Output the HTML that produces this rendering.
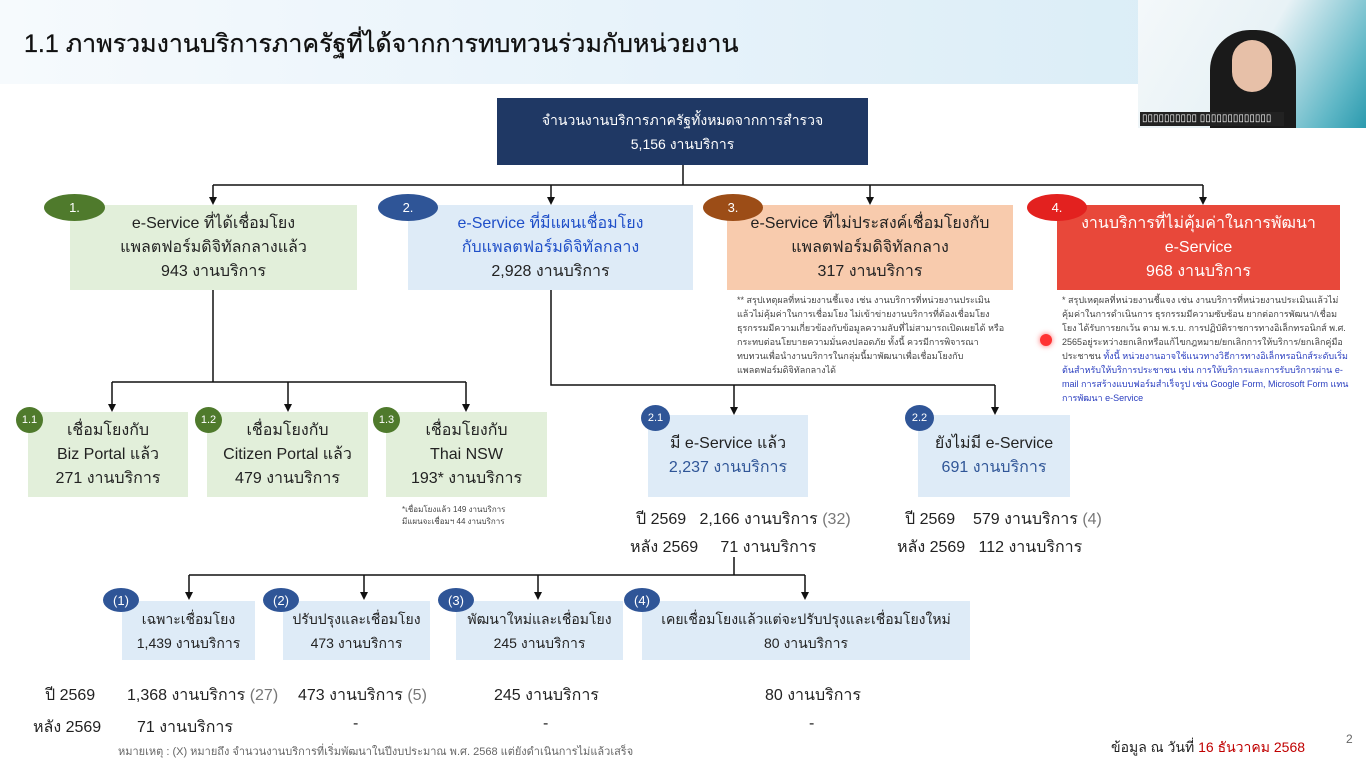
<!DOCTYPE html>
<html><head><meta charset="utf-8">
<style>
*{margin:0;padding:0;box-sizing:border-box}
body{width:1366px;height:768px;position:relative;overflow:hidden;background:#fff;font-family:"Liberation Sans","DejaVu Sans",sans-serif;color:#222}
.a{position:absolute}
.box{position:absolute;display:flex;flex-direction:column;justify-content:center;align-items:center;text-align:center;line-height:24px;font-size:16px}
.g{background:#e2efda}.b{background:#deebf7}.p{background:#f8cbad}.r{background:#e8483a;color:#fff}
.badge{position:absolute;border-radius:50%;color:#fff;font-size:13px;display:flex;align-items:center;justify-content:center}
.t{position:absolute;font-size:16px;white-space:nowrap}
.note{position:absolute;font-size:9px;line-height:14px;color:#444}
</style></head><body>
<div class="a" style="left:0;top:0;width:1366px;height:84px;background:linear-gradient(90deg,#f6fafd 0%,#e6f2fa 50%,#d6ebf5 100%)"></div>
<div class="a" style="left:24px;top:24px;font-size:25px;color:#111;-webkit-text-stroke:0.3px #111">1.1 ภาพรวมงานบริการภาครัฐที่ได้จากการทบทวนร่วมกับหน่วยงาน</div>
<div class="a" style="left:1138px;top:0;width:228px;height:128px;background:linear-gradient(120deg,#f4f8fa 0%,#e8f2f6 50%,#5fb7c6 85%,#2b9aae 100%)"></div>
<div class="a" style="left:1210px;top:30px;width:86px;height:98px;background:#1a1a1a;border-radius:40px 40px 0 0"></div>
<div class="a" style="left:1232px;top:40px;width:40px;height:52px;background:#e7c0a8;border-radius:20px"></div>
<div class="a" style="left:1140px;top:112px;width:144px;height:14px;background:#222;color:#fff;font-size:10px;line-height:14px;padding-left:2px">▯▯▯▯▯▯▯▯▯▯ ▯▯▯▯▯▯▯▯▯▯▯▯▯</div>

<svg class="a" style="left:0;top:0" width="1366" height="768">
<g stroke="#111" stroke-width="1.5" fill="none">
<path d="M683 165 V185 M213 185 H1203 M213 185 V198 M551 185 V198 M870 185 V198 M1203 185 V198"/>
<path d="M213 290 V382 M112 382 H466 M112 382 V405 M288 382 V405 M466 382 V405"/>
<path d="M551 290 V385 H995 M734 385 V408 M995 385 V408"/>
<path d="M734 557 V575 M189 575 H805 M189 575 V593 M364 575 V593 M538 575 V593 M805 575 V593"/>
</g>
<g fill="#111">
<path d="M209 197 H217 L213 205 Z"/><path d="M547 197 H555 L551 205 Z"/><path d="M866 197 H874 L870 205 Z"/><path d="M1199 197 H1207 L1203 205 Z"/>
<path d="M108 404 H116 L112 412 Z"/><path d="M284 404 H292 L288 412 Z"/><path d="M462 404 H470 L466 412 Z"/>
<path d="M730 407 H738 L734 415 Z"/><path d="M991 407 H999 L995 415 Z"/>
<path d="M185 592 H193 L189 600 Z"/><path d="M360 592 H368 L364 600 Z"/><path d="M534 592 H542 L538 600 Z"/><path d="M801 592 H809 L805 600 Z"/>
</g></svg>

<div class="box" style="left:497px;top:98px;width:371px;height:67px;background:#1f3864;color:#fff;font-size:14px">จำนวนงานบริการภาครัฐทั้งหมดจากการสำรวจ<br>5,156 งานบริการ</div>

<div class="box g" style="left:70px;top:205px;width:287px;height:85px">e-Service ที่ได้เชื่อมโยง<br>แพลตฟอร์มดิจิทัลกลางแล้ว<br>943 งานบริการ</div>
<div class="box b" style="left:408px;top:205px;width:285px;height:85px;color:#1f4fc8">e-Service ที่มีแผนเชื่อมโยง<br>กับแพลตฟอร์มดิจิทัลกลาง<br><span style="color:#222">2,928 งานบริการ</span></div>
<div class="box p" style="left:727px;top:205px;width:286px;height:85px">e-Service ที่ไม่ประสงค์เชื่อมโยงกับ<br>แพลตฟอร์มดิจิทัลกลาง<br>317 งานบริการ</div>
<div class="box r" style="left:1057px;top:205px;width:283px;height:85px">งานบริการที่ไม่คุ้มค่าในการพัฒนา<br>e-Service<br>968 งานบริการ</div>
<div class="badge" style="left:44px;top:194px;width:61px;height:27px;background:#4f7a2c">1.</div>
<div class="badge" style="left:378px;top:194px;width:60px;height:27px;background:#2f5597">2.</div>
<div class="badge" style="left:703px;top:194px;width:60px;height:27px;background:#9c4d17">3.</div>
<div class="badge" style="left:1027px;top:194px;width:60px;height:27px;background:#e3211f">4.</div>

<div class="note" style="left:737px;top:293px;width:268px">** สรุปเหตุผลที่หน่วยงานชี้แจง เช่น งานบริการที่หน่วยงานประเมินแล้วไม่คุ้มค่าในการเชื่อมโยง ไม่เข้าข่ายงานบริการที่ต้องเชื่อมโยง ธุรกรรมมีความเกี่ยวข้องกับข้อมูลความลับที่ไม่สามารถเปิดเผยได้ หรือกระทบต่อนโยบายความมั่นคงปลอดภัย ทั้งนี้ ควรมีการพิจารณาทบทวนเพื่อนำงานบริการในกลุ่มนี้มาพัฒนาเพื่อเชื่อมโยงกับแพลตฟอร์มดิจิทัลกลางได้</div>
<div class="note" style="left:1062px;top:293px;width:288px">* สรุปเหตุผลที่หน่วยงานชี้แจง เช่น งานบริการที่หน่วยงานประเมินแล้วไม่คุ้มค่าในการดำเนินการ ธุรกรรมมีความซับซ้อน ยากต่อการพัฒนา/เชื่อมโยง ได้รับการยกเว้น ตาม พ.ร.บ. การปฏิบัติราชการทางอิเล็กทรอนิกส์ พ.ศ. 2565อยู่ระหว่างยกเลิกหรือแก้ไขกฎหมาย/ยกเลิกการให้บริการ/ยกเลิกคู่มือประชาชน <span style="color:#2b3fc0">ทั้งนี้ หน่วยงานอาจใช้แนวทางวิธีการทางอิเล็กทรอนิกส์ระดับเริ่มต้นสำหรับให้บริการประชาชน เช่น การให้บริการและการรับบริการผ่าน e-mail การสร้างแบบฟอร์มสำเร็จรูป เช่น Google Form, Microsoft Form แทนการพัฒนา e-Service</span></div>
<div class="a" style="left:1040px;top:334px;width:12px;height:12px;border-radius:50%;background:#f33;box-shadow:0 0 6px #f66"></div>

<div class="box g" style="left:28px;top:412px;width:160px;height:85px">เชื่อมโยงกับ<br>Biz Portal แล้ว<br>271 งานบริการ</div>
<div class="box g" style="left:207px;top:412px;width:161px;height:85px">เชื่อมโยงกับ<br>Citizen Portal แล้ว<br>479 งานบริการ</div>
<div class="box g" style="left:386px;top:412px;width:161px;height:85px">เชื่อมโยงกับ<br>Thai NSW<br>193* งานบริการ</div>
<div class="badge" style="left:16px;top:407px;width:27px;height:26px;background:#4f7a2c;font-size:11px">1.1</div>
<div class="badge" style="left:195px;top:407px;width:27px;height:26px;background:#4f7a2c;font-size:11px">1.2</div>
<div class="badge" style="left:373px;top:407px;width:27px;height:26px;background:#4f7a2c;font-size:11px">1.3</div>
<div class="note" style="left:402px;top:504px;width:140px;font-size:8px;line-height:12px">*เชื่อมโยงแล้ว 149 งานบริการ<br>มีแผนจะเชื่อมฯ 44 งานบริการ</div>

<div class="box b" style="left:648px;top:415px;width:160px;height:82px">มี e-Service แล้ว<br><span style="color:#2f5597">2,237 งานบริการ</span></div>
<div class="box b" style="left:918px;top:415px;width:152px;height:82px">ยังไม่มี e-Service<br><span style="color:#2f5597">691 งานบริการ</span></div>
<div class="badge" style="left:641px;top:405px;width:29px;height:26px;background:#2f5597;font-size:11px">2.1</div>
<div class="badge" style="left:905px;top:405px;width:29px;height:26px;background:#2f5597;font-size:11px">2.2</div>

<div class="t" style="left:636px;top:507px">ปี 2569 &nbsp;&nbsp;2,166 งานบริการ <span style="color:#777">(32)</span></div>
<div class="t" style="left:630px;top:535px">หลัง 2569 &nbsp;&nbsp;&nbsp;&nbsp;71 งานบริการ</div>
<div class="t" style="left:905px;top:507px">ปี 2569 &nbsp;&nbsp;&nbsp;579 งานบริการ <span style="color:#777">(4)</span></div>
<div class="t" style="left:897px;top:535px">หลัง 2569 &nbsp;&nbsp;112 งานบริการ</div>

<div class="box b" style="left:122px;top:601px;width:133px;height:59px;font-size:14px">เฉพาะเชื่อมโยง<br>1,439 งานบริการ</div>
<div class="box b" style="left:283px;top:601px;width:147px;height:59px;font-size:14px">ปรับปรุงและเชื่อมโยง<br>473 งานบริการ</div>
<div class="box b" style="left:456px;top:601px;width:167px;height:59px;font-size:14px">พัฒนาใหม่และเชื่อมโยง<br>245 งานบริการ</div>
<div class="box b" style="left:642px;top:601px;width:328px;height:59px;font-size:14px">เคยเชื่อมโยงแล้วแต่จะปรับปรุงและเชื่อมโยงใหม่<br>80 งานบริการ</div>
<div class="badge" style="left:103px;top:588px;width:36px;height:24px;background:#2f5597">(1)</div>
<div class="badge" style="left:263px;top:588px;width:36px;height:24px;background:#2f5597">(2)</div>
<div class="badge" style="left:438px;top:588px;width:36px;height:24px;background:#2f5597">(3)</div>
<div class="badge" style="left:624px;top:588px;width:36px;height:24px;background:#2f5597">(4)</div>

<div class="t" style="left:45px;top:683px">ปี 2569</div>
<div class="t" style="left:127px;top:683px">1,368 งานบริการ <span style="color:#777">(27)</span></div>
<div class="t" style="left:298px;top:683px">473 งานบริการ <span style="color:#777">(5)</span></div>
<div class="t" style="left:494px;top:683px">245 งานบริการ</div>
<div class="t" style="left:765px;top:683px">80 งานบริการ</div>
<div class="t" style="left:33px;top:715px">หลัง 2569</div>
<div class="t" style="left:137px;top:715px">71 งานบริการ</div>
<div class="t" style="left:353px;top:715px">-</div>
<div class="t" style="left:543px;top:715px">-</div>
<div class="t" style="left:809px;top:715px">-</div>
<div class="a" style="left:118px;top:742px;font-size:11px;color:#666">หมายเหตุ : (X) หมายถึง จำนวนงานบริการที่เริ่มพัฒนาในปีงบประมาณ พ.ศ. 2568 แต่ยังดำเนินการไม่แล้วเสร็จ</div>
<div class="a" style="left:1111px;top:737px;font-size:14px">ข้อมูล ณ วันที่ <span style="color:#c00000">16 ธันวาคม 2568</span></div>
<div class="a" style="left:1346px;top:732px;font-size:12px;color:#666">2</div>
</body></html>
